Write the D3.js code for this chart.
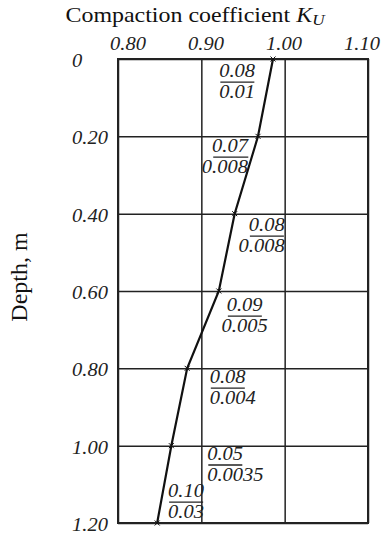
<!DOCTYPE html>
<html>
<head>
<meta charset="utf-8">
<script src="https://cdn.jsdelivr.net/npm/d3@7"></script>
<style>
  body { margin: 0; background: #fff; }
</style>
</head>
<body>
<div id="chart"></div>
<script>
// compaction coefficient profile vs depth
const depths = [0, 0.20, 0.40, 0.60, 0.80, 1.00, 1.20];
const kValues = [0.986, 0.968, 0.940, 0.921, 0.883, 0.864, 0.847];
const kTicks = [0.80, 0.90, 1.00, 1.10];
const depthTicks = [0, 0.20, 0.40, 0.60, 0.80, 1.00, 1.20];

// fraction annotations (numerator / denominator)
const numerators = ["0.08", "0.07", "0.08", "0.09", "0.08", "0.05", "0.10"];
const denominators = ["0.01", "0.008", "0.008", "0.005", "0.004", "0.0035", "0.03"];
const labelK = [0.943, 0.956, 1.000, 0.952, 0.910, 0.907, 0.860];
const labelDepth = [0.060, 0.254, 0.458, 0.665, 0.851, 1.050, 1.146];
const labelAnchor = ["middle", "end", "end", "middle", "start", "start", "start"];

const W = 387, H = 536;
const margin = { top: 59, left: 118, right: 19, bottom: 13 };
const FONT = 'Liberation Serif, Times New Roman, serif';
const SX = 1.14; // the scanned figure is a bit wider than tall

const x = d3.scaleLinear().domain([0.80, 1.10]).range([margin.left, W - margin.right]);
const y = d3.scaleLinear().domain([0, 1.20]).range([margin.top, H - margin.bottom]);
// tick labels on top sit a bit tighter than the grid
const xLab = d3.scaleLinear().domain([0.80, 1.10]).range([128, 362]);

const svg = d3.select('#chart').append('svg')
  .attr('width', W)
  .attr('height', H);

function stretched(sel, px, py) {
  return sel.attr('transform', 'translate(' + px + ',' + py + ') scale(' + SX + ',1)');
}

// vertical grid lines
svg.append('g')
  .attr('transform', 'translate(0,' + y(0) + ')')
  .call(d3.axisBottom(x).tickValues(kTicks).tickSize(y(1.2) - y(0)).tickFormat(''))
  .call(g => g.select('.domain').remove())
  .selectAll('line').attr('stroke', '#222').attr('stroke-width', 1.5);

// horizontal grid lines
svg.append('g')
  .attr('transform', 'translate(' + x(0.8) + ',0)')
  .call(d3.axisRight(y).tickValues(depthTicks).tickSize(x(1.1) - x(0.8)).tickFormat(''))
  .call(g => g.select('.domain').remove())
  .selectAll('line').attr('stroke', '#222').attr('stroke-width', 1.5);

// frame
svg.append('rect')
  .attr('x', x(0.8)).attr('y', y(0))
  .attr('width', x(1.1) - x(0.8)).attr('height', y(1.2) - y(0))
  .attr('fill', 'none').attr('stroke', '#222').attr('stroke-width', 2);

// top tick labels
svg.append('g')
  .selectAll('text')
  .data(kTicks)
  .enter()
  .append('text')
  .each(function (d) { stretched(d3.select(this), xLab(d), 50); })
  .attr('text-anchor', 'middle')
  .attr('font-family', FONT)
  .attr('font-style', 'italic')
  .attr('font-size', 18)
  .attr('fill', '#222')
  .text(d => d.toFixed(2));

// left tick labels
svg.append('g')
  .selectAll('text')
  .data(depthTicks)
  .enter()
  .append('text')
  .each(function (d) { stretched(d3.select(this), 72, y(d) + 8); })
  .attr('text-anchor', 'start')
  .attr('font-family', FONT)
  .attr('font-style', 'italic')
  .attr('font-size', 18)
  .attr('fill', '#222')
  .text(d => d === 0 ? '0' : d.toFixed(2));

// title
const title = stretched(svg.append('text'), 195, 22)
  .attr('text-anchor', 'middle')
  .attr('font-family', FONT)
  .attr('font-size', 21)
  .attr('fill', '#111');
title.append('tspan').text('Compaction coefficient ');
title.append('tspan').attr('font-style', 'italic').text('K');
title.append('tspan').attr('font-style', 'italic').attr('font-size', 15).attr('dy', 3).text('U');

// y axis title
svg.append('text')
  .attr('transform', 'translate(27,' + 277 + ') rotate(-90)')
  .attr('text-anchor', 'middle')
  .attr('font-family', FONT)
  .attr('font-size', 24)
  .attr('fill', '#111')
  .text('Depth, m');

// profile line
const pts = depths.map((d, i) => ({ depth: d, k: kValues[i] }));
const line = d3.line().x(d => x(d.k)).y(d => y(d.depth));
svg.append('path')
  .datum(pts)
  .attr('d', line)
  .attr('fill', 'none')
  .attr('stroke', '#111')
  .attr('stroke-width', 2.2);

// x markers
svg.append('g')
  .selectAll('path')
  .data(pts)
  .enter()
  .append('path')
  .attr('d', d => {
    const cx = x(d.k), cy = y(d.depth), s = 2.5;
    return 'M' + (cx - s) + ',' + (cy - s) + 'L' + (cx + s) + ',' + (cy + s) +
      'M' + (cx - s) + ',' + (cy + s) + 'L' + (cx + s) + ',' + (cy - s);
  })
  .attr('stroke', '#111')
  .attr('stroke-width', 1);

// fraction labels
const fr = svg.append('g')
  .selectAll('g')
  .data(numerators.map((n, i) => ({ num: n, den: denominators[i], k: labelK[i], depth: labelDepth[i], anchor: labelAnchor[i] })))
  .enter()
  .append('g')
  .each(function (d) { stretched(d3.select(this), x(d.k), y(d.depth)); });

fr.each(function (d) {
  const g = d3.select(this);
  const num = g.append('text')
    .attr('x', 0).attr('y', -5)
    .attr('text-anchor', d.anchor)
    .attr('font-family', FONT)
    .attr('font-style', 'italic').attr('font-size', 18)
    .attr('fill', '#222')
    .text(d.num);
  g.append('text')
    .attr('x', 0).attr('y', 16)
    .attr('text-anchor', d.anchor)
    .attr('font-family', FONT)
    .attr('font-style', 'italic').attr('font-size', 18)
    .attr('fill', '#222')
    .text(d.den);
  const bb = num.node().getBBox();
  g.append('line')
    .attr('x1', bb.x + 1).attr('x2', bb.x + bb.width - 1)
    .attr('y1', 0).attr('y2', 0)
    .attr('stroke', '#222').attr('stroke-width', 1.3);
});
</script>
</body>
</html>
